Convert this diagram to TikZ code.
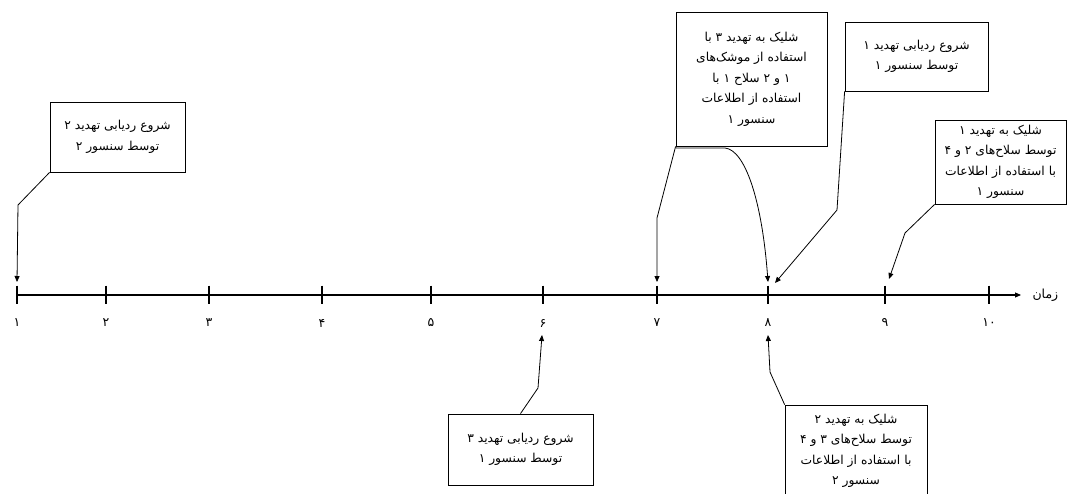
\documentclass[tikz,border=0pt]{standalone}
\usepackage{fontspec}
\newfontfamily\arabicfont[Script=Arabic]{DejaVu Sans}
\TeXXeTstate=1
\usetikzlibrary{arrows.meta}
\newcommand\fa[1]{\beginR #1\endR}
\begin{document}
\begin{tikzpicture}[x=1pt,y=-1pt,
  box/.style={draw, line width=0.8pt, align=center, inner sep=0pt,
    font=\arabicfont\fontsize{12.3}{20.5}\selectfont},
  conn/.style={line width=0.8pt, -{Triangle[length=6pt,width=5pt]}},
  ticklab/.style={font=\arabicfont\fontsize{12.5}{14}\selectfont},
  tickmark/.style={line width=2.4pt}]
\clip (0,0) rectangle (1070,494);
\fill[white] (0,0) rectangle (1070,494);
% axis
\coordinate (o) at (17,295);
\coordinate (e) at (1021,295);
\draw[line width=1.1pt, -{Triangle[length=6pt,width=5pt]}] (o) -- (e);
\node[ticklab, anchor=west] (zaman) at (1029,295) {\fa{زمان}};
% ticks
\foreach \n/\x/\lab in {1/17/۱,2/106/۲,3/209/۳,4/322/۴,5/431/۵,6/543/۶,7/657/۷,8/768/۸,9/885/۹,10/989/۱۰}{
  \coordinate (t\n) at (\x,295);
  \draw[tickmark] (\x,285.5) -- (\x,304);
  \node[ticklab] (l\n) at (\x,323) {\lab};
}
% boxes
\node[box, minimum width=135pt, minimum height=70pt] (b1) at (117.5,137)
  {\fa{شروع ردیابی تهدید ۲}\\ \fa{توسط سنسور ۲}};
\node[box, minimum width=151pt, minimum height=134pt] (b2) at (751.5,79)
  {\fa{شلیک به تهدید ۳ با}\\ \fa{استفاده از موشک‌های}\\ \fa{۱ و ۲ سلاح ۱ با}\\ \fa{استفاده از اطلاعات}\\ \fa{سنسور ۱}};
\node[box, minimum width=143pt, minimum height=69pt] (b3) at (916.5,56.5)
  {\fa{شروع ردیابی تهدید ۱}\\ \fa{توسط سنسور ۱}};
\node[box, minimum width=131pt, minimum height=84pt] (b4) at (1000.5,162)
  {\fa{شلیک به تهدید ۱}\\ \fa{توسط سلاح‌های ۲ و ۴}\\ \fa{با استفاده از اطلاعات}\\ \fa{سنسور ۱}};
\node[box, minimum width=145pt, minimum height=71pt] (b5) at (520.5,449.5)
  {\fa{شروع ردیابی تهدید ۳}\\ \fa{توسط سنسور ۱}};
\node[box, minimum width=142pt, minimum height=92pt] (b6) at (856,451)
  {\fa{شلیک به تهدید ۲}\\ \fa{توسط سلاح‌های ۳ و ۴}\\ \fa{با استفاده از اطلاعات}\\ \fa{سنسور ۲}};
% arrow targets
\coordinate (a1) at (17,282);
\coordinate (a7) at (657,282);
\coordinate (a8) at (768,282);
\coordinate (a8r) at (775,283);
\coordinate (a9) at (889,279);
\coordinate (a6) at (542,335);
\coordinate (a8b) at (768,335);
% connectors
\draw[conn] (b1.south west) -- (18,205) -- (a1);
\draw[conn] (b2.south west) -- (657,218) -- (a7);
\draw[conn] ([yshift=-1.5pt]b2.south west) -- (725,148) .. controls (745,150) and (762,200) .. (a8);
\draw[conn] (b3.south west) -- (837,210) -- (a8r);
\draw[conn] (b4.south west) -- (905,233) -- (a9);
\draw[conn] (b5.north) -- (538,388) -- (a6);
\draw[conn] (b6.north west) -- (770,372) -- (a8b);
\end{tikzpicture}
\end{document}
